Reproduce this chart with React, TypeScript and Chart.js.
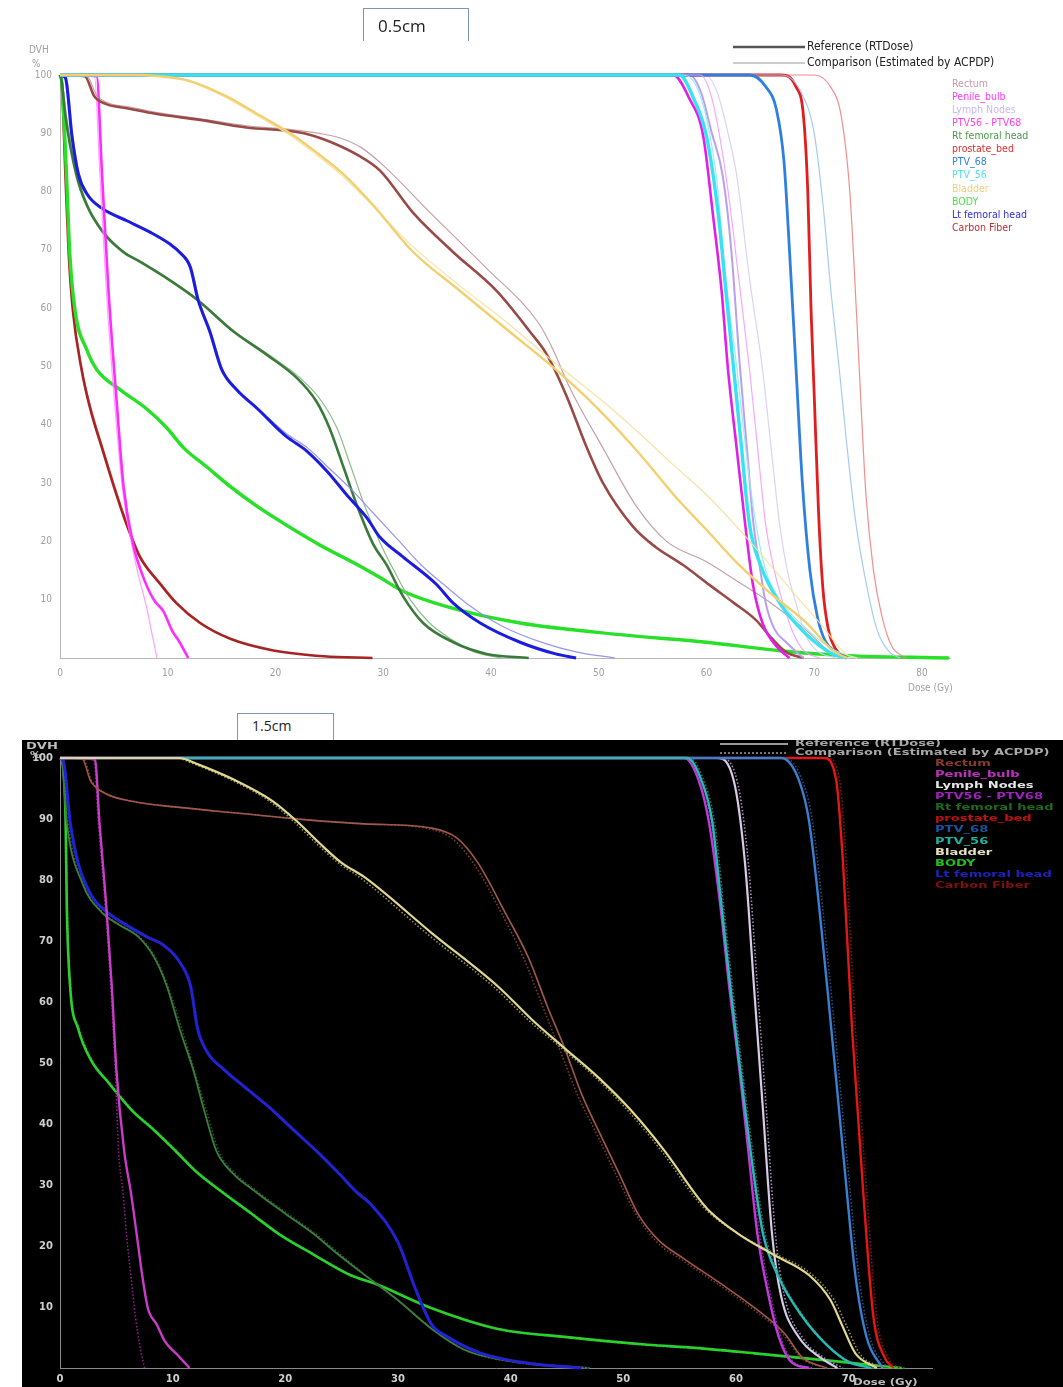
import React, { useEffect, useRef } from "react";
import { Chart, registerables } from "chart.js";
Chart.register(...registerables);

type Pt = [number, number];

// ---------- shared labels ----------
const panelLabels = ["0.5cm", "1.5cm"];
const legendHeader = ["Reference (RTDose)", "Comparison (Estimated by ACPDP)"];
const structureNames = [
  "Rectum", "Penile_bulb", "Lymph Nodes", "PTV56 - PTV68", "Rt femoral head", "prostate_bed",
  "PTV_68", "PTV_56", "Bladder", "BODY", "Lt femoral head", "Carbon Fiber",
];
const doseTicksTop = [0, 10, 20, 30, 40, 50, 60, 70, 80];
const doseTicksBot = [0, 10, 20, 30, 40, 50, 60, 70];
const volTicks = [0, 10, 20, 30, 40, 50, 60, 70, 80, 90, 100];
const axisTitles = ["DVH", "%", "Dose (Gy)"];

// ---------- top panel (0.5cm) : [dose Gy, volume %] ----------
const topRectumRef: Pt[] = [[0,100],[2.3,99.8],[3.2,96.3],[4.3,95],[6.2,94.3],[9,93.3],[13,92.3],[17.3,91],[21.7,90.3],[23.5,89.6],[25.4,88.3],[27.6,86.3],[29.7,83.6],[32.8,76.3],[36.5,69.6],[40.5,63],[43.6,56],[45.2,52],[47,45],[48.8,36.5],[50.4,30],[53.2,22.5],[55.3,19],[57.8,16],[60.3,12.5],[62.5,9.5],[64.6,6.5],[66,3.5],[67.4,1],[69,0]];
const topRectumComp: Pt[] = [[0,100],[2.5,99.8],[3.4,96.5],[4.5,95.2],[6.5,94.5],[9.2,93.5],[13,92.5],[17.3,91.3],[21.7,90.6],[24,90],[26,89.2],[28,87.5],[30,84.5],[34.4,76.3],[39.5,67],[44.4,57.5],[45.6,53.5],[47.4,46],[50.4,36],[53.5,26],[56.3,20],[60,16.5],[63,13],[66,9.4],[69.3,4.7],[71.7,0.7],[73,0]];
const topPenileRef: Pt[] = [[0,100],[3.4,99.8],[3.9,83],[4.5,63],[5.3,43],[5.9,29.4],[6.8,19.4],[7.7,14],[8.7,10],[9.6,8],[10.4,4.7],[11.1,2.7],[11.9,0]];
const topPenileComp: Pt[] = [[0,100],[3.2,99.8],[3.7,83],[4.3,63],[5.1,43],[5.8,29],[6.6,20],[7.3,14],[8,9],[8.5,4.5],[9,0]];
const topLymphRef: Pt[] = [[0,100],[58.4,100],[59.5,97],[60.5,90],[61.5,82.8],[62.3,70],[63.1,50],[63.8,35],[64.3,24],[65,15],[65.5,9.4],[66.3,5],[67.4,2.7],[69,0]];
const topLymphComp: Pt[] = [[0,100],[59.9,100],[61,97],[62,90],[62.8,82.8],[64,65],[65.2,49.5],[66,36],[66.8,22.7],[67.5,15],[68.3,9.4],[69.2,4],[70.2,1.3],[72,0]];
const topPtv5668Ref: Pt[] = [[0,100],[56.9,100],[58.4,96],[59.7,89.5],[60.6,76],[61.4,63],[62,49.4],[62.8,36],[63.6,22.8],[64.3,12.7],[65.2,6],[66.5,2],[67.7,0]];
const topPtv5668Comp: Pt[] = [[0,100],[59.4,100],[60.5,96],[61.8,82.8],[63,65],[64,49.4],[64.8,35],[65.5,22.8],[66.3,15],[67.1,9.4],[68,4.5],[69,1.3],[70.5,0]];
const topRtFemRef: Pt[] = [[0,100],[0.15,99],[0.5,93],[1.5,83],[2.5,77.6],[4,73],[5.9,69.6],[7.4,68],[9.6,65.5],[12.7,61.5],[16.1,56],[19.2,52],[22,48],[23.8,44],[25,39.5],[26.3,32.8],[27.6,26],[29.1,19.4],[30.3,16],[31.8,10.7],[33.7,6],[36.5,2.7],[39.6,0.7],[43.5,0]];
const topRtFemComp: Pt[] = [[0,100],[0.2,99],[0.6,93],[1.6,83],[2.6,77.6],[4.1,73],[6,69.6],[7.5,68],[9.7,65.5],[12.8,61.5],[16.2,56],[19.4,52],[22.3,48],[24.3,44],[25.7,39.5],[27,32.8],[28.3,26],[29.8,19.4],[31,15],[32.5,10],[34.3,6],[36.5,3],[38.5,1],[41,0]];
const topProstateRef: Pt[] = [[0,100],[67,100],[68.3,98],[69,93],[69.4,80],[69.7,60],[70,45],[70.4,25],[70.8,12],[71.3,5],[72,1.5],[73,0]];
const topProstateComp: Pt[] = [[0,100],[70,100],[71.5,98],[72.5,93],[73.3,80],[73.9,60],[74.3,45],[74.8,28],[75.5,15],[76.3,7],[77.2,2],[78.5,0]];
const topPtv68Ref: Pt[] = [[0,100],[64,100],[65.5,98],[66.5,94],[67.2,85],[67.7,70],[68.3,50],[68.9,30],[69.6,15],[70.3,7],[71,3],[72,1],[73,0]];
const topPtv68Comp: Pt[] = [[0,100],[67,100],[68.8,97],[70,90],[70.8,78],[71.6,62],[72.3,50],[73,37],[73.8,24],[74.8,13],[75.8,5],[77,1],[78,0]];
const topPtv56Ref: Pt[] = [[0,100],[57.5,100],[58.8,96],[60,89.5],[61.1,76],[61.8,63],[62.5,50],[63.2,37],[64,22.8],[65,16],[66.8,9.4],[69.3,4],[71.7,0.7],[73,0]];
const topPtv56Comp: Pt[] = [[0,100],[57.8,100],[59.5,96],[60.9,82.8],[61.8,65],[62.8,50],[63.7,35],[64.6,22.8],[65.5,15],[66.8,10],[69.3,5],[71.7,1.5],[74,0]];
const topBladderRef: Pt[] = [[0,100],[7.4,100],[9,99.8],[12,99],[15.5,96.3],[18.6,93],[21.7,89.6],[24.1,86.3],[26.3,83],[29.1,77.6],[32.8,69.6],[37.1,63],[41.7,56],[46,49.5],[49.8,43],[53.8,35],[57.2,27.5],[60,22],[63,16],[66.2,10.7],[69.3,6],[71.7,1.3],[73,0]];
const topBladderComp: Pt[] = [[0,100],[7,100],[8.8,99.8],[11.8,99],[15.2,96.3],[18.3,93],[21.4,89.6],[23.8,86.3],[26,83],[28.8,78],[32.5,71],[37,64],[41.5,57.5],[46,50.5],[50.4,44],[53.8,38.5],[57,33],[60,28],[64.6,18.8],[67.7,12],[70.8,5.4],[72.9,0.7],[74,0]];
const topBodyRef: Pt[] = [[0,100],[0.15,99],[0.6,83],[0.9,69.6],[1.4,59.5],[2.5,52.8],[3.4,49.5],[5.6,46],[8,42.8],[9.9,39.5],[11.5,36],[13.6,32.8],[15.8,29.4],[18.3,26],[21,22.8],[24.1,19.4],[27.6,16],[29.7,13.8],[31.8,11.5],[36.5,8.5],[42.7,6],[52,4],[60,2.7],[67,1.2],[72,0.5],[82.5,0]];
const topBodyComp: Pt[] = [[0,100],[0.2,99],[0.65,83],[0.95,69.6],[1.5,59.5],[2.6,52.8],[3.5,49.5],[5.7,46],[8.1,42.8],[10,39.5],[11.6,36],[13.7,32.8],[16,29.4],[18.5,26],[21.2,22.8],[24.3,19.4],[27.8,16],[30,13.6],[32,11.4],[36.7,8.4],[43,5.9],[52.3,3.9],[60.3,2.6],[67.3,1.1],[72.5,0.4],[82.5,0]];
const topLtFemRef: Pt[] = [[0,100],[0.5,99.5],[1.1,89.6],[1.7,83],[2.5,79.6],[4,77],[6.2,75],[8.4,73],[10.2,71],[11.1,69.6],[12.1,67],[12.8,61.5],[13.9,56],[15,49.5],[16.4,46],[18.3,42.8],[21,38],[22.9,35.5],[24.8,32],[26.6,28],[28.5,24],[29.7,20.7],[31.8,17.4],[34.9,12.7],[36.5,9.4],[39,6],[42.7,2.7],[46,0.7],[47.9,0]];
const topLtFemComp: Pt[] = [[0,100],[0.6,99.5],[1.2,89.6],[1.8,83],[2.6,79.6],[4.1,77],[6.3,75],[8.5,73],[10.3,71],[11.2,69.6],[12.2,67],[12.9,61.5],[14,56],[15.1,49.5],[16.5,46],[18.4,42.8],[21,38.5],[23,36],[25,32.5],[27,29],[29,25],[31.5,20],[33.5,16],[36,12],[38,9],[41,5.5],[45,2.5],[48,1],[51.5,0]];
const topCarbonRef: Pt[] = [[0,100],[0.15,99],[0.5,83],[0.8,69.6],[1.2,59.5],[2,49.5],[2.8,42.8],[3.9,36],[5,29.4],[6.2,22.8],[7.4,17.4],[9.3,12.7],[10.8,9.4],[13,6],[15.8,3.3],[19.8,1.3],[24.5,0.3],[29,0]];
const topCarbonComp: Pt[] = [[0,100],[0.2,99],[0.55,83],[0.85,69.6],[1.25,59.5],[2.05,49.5],[2.9,42.8],[4,36],[5.1,29.4],[6.3,22.8],[7.5,17.4],[9.4,12.7],[10.9,9.4],[13.1,6],[16,3.2],[20,1.2],[24.5,0.3],[28.5,0]];

// ---------- bottom panel (1.5cm) ----------
const botRectumRef: Pt[] = [[0,100],[2,99.8],[2.7,96.3],[3.9,94.3],[6.4,92.9],[10.6,91.9],[16.1,90.9],[21.7,89.9],[27,89.2],[33,88.5],[35.3,86.8],[37.1,82.8],[39.5,74.7],[41.6,67.2],[43.3,59.1],[44.8,52.4],[46.3,44.9],[47.8,38.9],[49.6,32],[51.3,25.3],[53.1,21],[55.4,17.9],[58.6,13.9],[61.7,9.8],[64.3,5.7],[65.9,1.7],[68.1,0]];
const botRectumComp: Pt[] = [[0,100],[2.1,99.8],[2.8,96.3],[4,94.3],[6.5,92.9],[10.7,91.9],[16.2,90.9],[21.8,89.9],[27.1,89.2],[33,88.3],[35,86.5],[36.8,82.5],[39.2,74.5],[41.2,67],[42.9,59],[44.4,52],[46,44.5],[47.6,38.5],[49.4,31.5],[51.2,25],[53,20.6],[55.3,17.6],[58.5,13.6],[61.6,9.5],[64.2,5.5],[65.8,1.6],[68,0]];
const botPenileRef: Pt[] = [[0,100],[3.1,99.8],[3.5,89.5],[4.1,76],[4.6,62.5],[5,49],[5.7,35.5],[6.3,28.7],[6.8,22],[7.3,15.2],[7.8,9.8],[8.6,7.1],[9.3,4.4],[10.5,2],[11.5,0]];
const botPenileComp: Pt[] = [[0,100],[3,99.8],[3.4,89.5],[4,76],[4.5,62.5],[4.9,49],[5.2,35.5],[5.6,28.7],[5.9,22],[6.3,15],[6.7,8.4],[7.1,3.5],[7.5,0]];
const botLymphRef: Pt[] = [[0,100],[58.3,100],[59.8,96.3],[60.8,82.8],[61.6,62.5],[62.4,42.2],[63.2,22],[64,11.8],[65.6,5],[67.5,1.7],[69,0]];
const botLymphComp: Pt[] = [[0,100],[58.6,100],[60.1,96.3],[61.1,82.8],[61.9,62.5],[62.7,42.2],[63.5,22],[64.3,11.8],[65.9,5],[67.8,1.7],[69.5,0]];
const botPtv5668Ref: Pt[] = [[0,100],[55.4,100],[56.7,96.3],[57.6,89.5],[58.6,76],[59.4,62.5],[60.3,49],[61.1,35.5],[61.9,22],[62.9,11.8],[63.8,5.1],[64.9,1],[66.5,0]];
const botPtv5668Comp: Pt[] = [[0,100],[55.6,100],[56.9,96.3],[57.8,89.5],[58.8,76],[59.6,62.5],[60.5,49],[61.3,35.5],[62.1,22],[63.1,11.8],[64,5],[65.1,1],[66.8,0]];
const botRtFemRef: Pt[] = [[0,100],[0.2,99],[0.6,89.5],[2,79.4],[3.7,74.7],[5.3,72.6],[7,70.6],[8.4,67.2],[9.5,62.5],[10.6,55.7],[11.8,49],[12.8,42.2],[13.9,35.5],[15.3,32],[17.5,28.7],[20,25.3],[22.5,22],[24.7,18.6],[26.8,15.6],[30,11.1],[33,6.4],[35.9,3],[40.4,1],[47,0]];
const botRtFemComp: Pt[] = [[0,100],[0.25,99],[0.7,89.5],[2.1,79.4],[3.8,74.7],[5.4,72.6],[7.1,70.6],[8.5,67.2],[9.6,62.5],[10.8,55.7],[11.9,49],[13,42.2],[14.1,35.5],[15.5,32],[17.7,28.7],[20.2,25.3],[22.7,22],[24.9,18.6],[27,15.4],[30.2,10.8],[33.2,6.2],[36,2.9],[40.5,0.9],[46,0]];
const botProstateRef: Pt[] = [[0,100],[67.8,100],[68.9,96.3],[69.5,82.8],[70.3,55.7],[71.3,28.7],[72.2,8.4],[73.2,1.7],[74,0]];
const botProstateComp: Pt[] = [[0,100],[68.1,100],[69.2,96.3],[69.8,82.8],[70.6,55.7],[71.6,28.7],[72.5,8.4],[73.5,1.7],[74.5,0]];
const botPtv68Ref: Pt[] = [[0,100],[64,100],[65.6,96.3],[66.5,89.5],[68.1,62.5],[69.5,35.5],[70.6,15.2],[71.6,5],[73,0]];
const botPtv68Comp: Pt[] = [[0,100],[64.3,100],[65.9,96.3],[66.8,89.5],[68.4,62.5],[69.8,35.5],[70.9,15.2],[71.9,5],[73.4,0]];
const botPtv56Ref: Pt[] = [[0,100],[55.7,100],[57,96],[57.9,89.5],[58.7,76],[59.5,62.5],[61.3,35.5],[62.4,22],[63.7,15.2],[65.9,8.4],[68.1,3.7],[70,1],[72,0]];
const botPtv56Comp: Pt[] = [[0,100],[55.9,100],[57.2,96],[58.1,89.5],[58.9,76],[59.7,62.5],[61.5,35.5],[62.6,22],[63.9,15],[66.1,8.2],[68.3,3.5],[70.2,0.9],[72.3,0]];
const botBladderRef: Pt[] = [[0,100],[10.6,100],[12.2,99],[15.6,96.3],[18.9,92.9],[21.1,89.5],[23,86.1],[25,82.8],[27,80.5],[33,71.3],[38.9,62.5],[41.9,57.1],[44.8,52.4],[47.8,47.6],[50.7,42.2],[53.7,35.5],[56.4,28.5],[57.5,26],[60.2,22],[63.3,18.6],[66.5,15.2],[68.4,11.1],[69.4,7.1],[70.6,2.4],[72.5,0]];
const botBladderComp: Pt[] = [[0,100],[10.3,100],[11.9,99],[15.3,96.3],[18.6,92.9],[20.8,89.5],[22.7,86.1],[24.7,82.8],[26.7,80.3],[32.7,71],[38.6,62.3],[41.6,57],[44.6,52.3],[47.6,47.5],[50.5,42],[53.5,35.3],[56.2,28.3],[57.4,25.8],[60.2,22],[63.4,18.8],[66.7,15.4],[68.7,11.2],[69.8,7],[71,2.3],[73,0]];
const botBodyRef: Pt[] = [[0,100],[0.2,99.5],[0.5,89.5],[0.6,76],[0.9,62.5],[1.6,55.7],[2.8,50.3],[4.2,47],[6.4,42.2],[8.4,38.9],[10.3,35.5],[12.2,32],[14.5,28.7],[17,25.3],[19.4,22],[22.5,18.6],[25.8,15.2],[28,13.8],[33,9.8],[38.9,6.4],[44.8,5.1],[52.2,3.8],[56.4,3.3],[61.7,2.4],[69.4,1],[72,0.5],[74.7,0]];
const botBodyComp: Pt[] = [[0,100],[0.25,99.5],[0.55,89.5],[0.65,76],[0.95,62.5],[1.7,55.7],[2.9,50.3],[4.3,47],[6.5,42.2],[8.5,38.9],[10.4,35.5],[12.3,32],[14.6,28.7],[17.1,25.3],[19.5,22],[22.6,18.6],[25.9,15.2],[28.1,13.7],[33.1,9.7],[39,6.3],[44.9,5],[52.3,3.7],[56.5,3.2],[61.8,2.3],[69.5,0.9],[72.1,0.4],[75,0]];
const botLtFemRef: Pt[] = [[0,100],[0.3,99.5],[0.9,89.5],[1.6,82.8],[2.8,77.4],[4.2,74.7],[5.9,72.6],[7.8,70.6],[9.2,69.3],[10.6,66.6],[11.6,62.5],[12.2,55.7],[13.1,51.7],[14.5,49],[16.7,45.6],[18.9,42.2],[20.8,38.9],[22.8,35.5],[24.7,32],[26.4,28.7],[27.5,27],[30,20.6],[31.5,13.2],[33,7.1],[34.4,5.1],[37.4,2.4],[41.9,0.7],[46.3,0]];
const botLtFemComp: Pt[] = [[0,100],[0.35,99.5],[0.95,89.5],[1.7,82.8],[2.9,77.4],[4.3,74.7],[6,72.6],[7.9,70.6],[9.3,69.3],[10.7,66.6],[11.7,62.5],[12.3,55.7],[13.2,51.7],[14.6,49],[16.8,45.6],[19,42.2],[20.9,38.9],[22.9,35.5],[24.8,32],[26.5,28.7],[27.6,27],[30.1,20.4],[31.6,13],[33.1,7],[34.5,5],[37.5,2.3],[42,0.6],[47,0]];

// ---------- curve lists (first = drawn on top) ----------
type Curve = { name: string; ref: Pt[]; comp: Pt[] };
const topCurves: Curve[] = [
  { name: "Bladder", ref: topBladderRef, comp: topBladderComp },
  { name: "PTV_56", ref: topPtv56Ref, comp: topPtv56Comp },
  { name: "PTV56 - PTV68", ref: topPtv5668Ref, comp: topPtv5668Comp },
  { name: "PTV_68", ref: topPtv68Ref, comp: topPtv68Comp },
  { name: "prostate_bed", ref: topProstateRef, comp: topProstateComp },
  { name: "Lymph Nodes", ref: topLymphRef, comp: topLymphComp },
  { name: "Rectum", ref: topRectumRef, comp: topRectumComp },
  { name: "Penile_bulb", ref: topPenileRef, comp: topPenileComp },
  { name: "Lt femoral head", ref: topLtFemRef, comp: topLtFemComp },
  { name: "Rt femoral head", ref: topRtFemRef, comp: topRtFemComp },
  { name: "BODY", ref: topBodyRef, comp: topBodyComp },
  { name: "Carbon Fiber", ref: topCarbonRef, comp: topCarbonComp },
];
const botCurves: Curve[] = [
  { name: "Bladder", ref: botBladderRef, comp: botBladderComp },
  { name: "PTV_56", ref: botPtv56Ref, comp: botPtv56Comp },
  { name: "PTV56 - PTV68", ref: botPtv5668Ref, comp: botPtv5668Comp },
  { name: "PTV_68", ref: botPtv68Ref, comp: botPtv68Comp },
  { name: "prostate_bed", ref: botProstateRef, comp: botProstateComp },
  { name: "Lymph Nodes", ref: botLymphRef, comp: botLymphComp },
  { name: "Rectum", ref: botRectumRef, comp: botRectumComp },
  { name: "Penile_bulb", ref: botPenileRef, comp: botPenileComp },
  { name: "Lt femoral head", ref: botLtFemRef, comp: botLtFemComp },
  { name: "Rt femoral head", ref: botRtFemRef, comp: botRtFemComp },
  { name: "BODY", ref: botBodyRef, comp: botBodyComp },
];

// ---------- styles ----------
type Sty = { ref: string; comp: string; w: number };
const topStyle: Record<string, Sty> = {
  Rectum: { ref: "#9a4a46", comp: "rgba(185,145,155,0.85)", w: 2.6 },
  Penile_bulb: { ref: "#ff2cff", comp: "rgba(255,150,255,0.9)", w: 2.6 },
  "Lymph Nodes": { ref: "#b8a0ee", comp: "rgba(215,205,245,0.9)", w: 2 },
  "PTV56 - PTV68": { ref: "#e020e8", comp: "rgba(245,160,245,0.9)", w: 2.6 },
  "Rt femoral head": { ref: "#3a7a3a", comp: "rgba(130,180,130,0.9)", w: 2.6 },
  prostate_bed: { ref: "#e01e1e", comp: "rgba(240,130,130,0.9)", w: 2.8 },
  PTV_68: { ref: "#2f7fe0", comp: "rgba(160,200,240,0.95)", w: 2.8 },
  PTV_56: { ref: "#38e2f2", comp: "rgba(150,235,240,0.95)", w: 3.4 },
  Bladder: { ref: "#f2d070", comp: "rgba(246,226,160,0.95)", w: 2.4 },
  BODY: { ref: "#28e028", comp: "rgba(140,240,140,0.9)", w: 3.4 },
  "Lt femoral head": { ref: "#1c1ce0", comp: "rgba(140,140,240,0.9)", w: 3 },
  "Carbon Fiber": { ref: "#a82424", comp: "rgba(210,110,110,0.85)", w: 2.6 },
};
const botStyle: Record<string, Sty> = {
  Rectum: { ref: "#a0584a", comp: "#7a3c32", w: 1.6 },
  Penile_bulb: { ref: "#c83cc8", comp: "#8a208a", w: 2.4 },
  "Lymph Nodes": { ref: "#d6cce6", comp: "#9a8fb0", w: 2.2 },
  "PTV56 - PTV68": { ref: "#c03ad8", comp: "#8a2aa0", w: 2.4 },
  "Rt femoral head": { ref: "#3d7d3d", comp: "#285a28", w: 1.8 },
  prostate_bed: { ref: "#e01818", comp: "#901010", w: 2.4 },
  PTV_68: { ref: "#3a80d0", comp: "#24508a", w: 2.4 },
  PTV_56: { ref: "#2ab8b4", comp: "#1a7a78", w: 2.4 },
  Bladder: { ref: "#e0d890", comp: "#9a9050", w: 2.2 },
  BODY: { ref: "#2cd02c", comp: "#1a8a1a", w: 2.6 },
  "Lt femoral head": { ref: "#2222d0", comp: "#161690", w: 3 },
};
const topLegendColors = ["#c898a8", "#ff3cff", "#c8b8f0", "#ff40f0", "#4a9a4a", "#e03030", "#3080e0", "#50e0f0", "#f0d080", "#50e050", "#3030e0", "#c03030"];
const botLegendColors = ["#8a3a2a", "#c030c0", "#e6e6e6", "#a020c0", "#1f6a1f", "#c01010", "#2050a0", "#20b0a0", "#e8e0c0", "#20c020", "#2020c0", "#801010"];

const NARROW = '"Liberation Sans Narrow", "DejaVu Sans Condensed", "Liberation Sans", sans-serif';
const WIDE = '"DejaVu Sans", "Liberation Sans", sans-serif';

function buildDatasets(curves: Curve[], styles: Record<string, Sty>, dark: boolean) {
  const ds: any[] = [];
  curves.forEach((c) => {
    const s = styles[c.name];
    ds.push({
      label: c.name + " ref",
      data: c.ref.map(([x, y]) => ({ x, y })),
      borderColor: s.ref, borderWidth: s.w, pointRadius: 0, fill: false,
      cubicInterpolationMode: "monotone", clip: false,
    });
    ds.push({
      label: c.name + " comp",
      data: c.comp.map(([x, y]) => ({ x, y })),
      borderColor: s.comp, borderWidth: dark ? 1.6 : 1.2, borderDash: dark ? [1.5, 2] : [],
      pointRadius: 0, fill: false, cubicInterpolationMode: "monotone", clip: false,
    });
  });
  return ds;
}

function hline(ctx: CanvasRenderingContext2D, x1: number, x2: number, y: number) {
  ctx.beginPath(); ctx.moveTo(x1, y); ctx.lineTo(x2, y); ctx.stroke();
}
function sText(ctx: CanvasRenderingContext2D, t: string, x: number, y: number, sx: number) {
  ctx.save(); ctx.translate(x, y); ctx.scale(sx, 1); ctx.fillText(t, 0, 0); ctx.restore();
}

function drawTop(ctx: CanvasRenderingContext2D) {
  ctx.textBaseline = "middle"; ctx.textAlign = "left";
  ctx.fillStyle = "#a0a0a0"; ctx.font = `10px ${NARROW}`;
  ctx.fillText(axisTitles[0], 29, 50);
  ctx.fillText(axisTitles[1], 32, 64);
  ctx.fillText(axisTitles[2], 908, 688);
  ctx.strokeStyle = "#555"; ctx.lineWidth = 2.5; hline(ctx, 733, 805, 47);
  ctx.strokeStyle = "#999"; ctx.lineWidth = 1; hline(ctx, 733, 805, 63);
  ctx.fillStyle = "#222"; ctx.font = `12px ${NARROW}`;
  ctx.fillText(legendHeader[0], 807, 47);
  ctx.fillText(legendHeader[1], 807, 63);
  ctx.font = `10.5px ${NARROW}`;
  structureNames.forEach((n, i) => { ctx.fillStyle = topLegendColors[i]; ctx.fillText(n, 952, 84 + i * 13.1); });
}

function drawBot(ctx: CanvasRenderingContext2D) {
  ctx.textBaseline = "middle"; ctx.textAlign = "left";
  ctx.fillStyle = "#bdbdbd"; ctx.font = `bold 9px ${WIDE}`;
  sText(ctx, axisTitles[0], 4, 7, 1.45);
  sText(ctx, axisTitles[1], 8, 16, 1.2);
  sText(ctx, axisTitles[2], 831, 643, 1.3);
  ctx.strokeStyle = "#9a9a9a"; ctx.lineWidth = 2; hline(ctx, 698, 766, 4);
  ctx.setLineDash([2, 2]); ctx.lineWidth = 1.5; hline(ctx, 698, 766, 13); ctx.setLineDash([]);
  ctx.fillStyle = "#a8a8a8";
  sText(ctx, legendHeader[0], 773, 4, 1.45);
  sText(ctx, legendHeader[1], 773, 13, 1.45);
  structureNames.forEach((n, i) => { ctx.fillStyle = botLegendColors[i]; sText(ctx, n, 913, 23.5 + i * 11.1, 1.45); });
}

type PanelCfg = {
  curves: Curve[]; styles: Record<string, Sty>; dark: boolean; xMax: number; xTicks: number[];
  padding: { left: number; top: number; right: number; bottom: number }; yW: number; xH: number;
  tickFont: any; tickColor: string; axisColor: string; xPad: number; yPad: number;
  draw: (ctx: CanvasRenderingContext2D) => void;
};

function makeConfig(p: PanelCfg): any {
  return {
    type: "line",
    data: { datasets: buildDatasets(p.curves, p.styles, p.dark) },
    options: {
      responsive: false, animation: false, devicePixelRatio: 1,
      layout: { padding: p.padding },
      plugins: { legend: { display: false }, tooltip: { enabled: false } },
      scales: {
        x: {
          type: "linear", min: 0, max: p.xMax,
          afterBuildTicks: (s: any) => { s.ticks = p.xTicks.map((v) => ({ value: v })); },
          afterFit: (s: any) => { s.height = p.xH; },
          grid: { display: false, drawTicks: false },
          border: { display: true, color: p.axisColor, dash: [2, 2], width: 1 },
          ticks: { color: p.tickColor, font: p.tickFont, padding: p.xPad, maxRotation: 0, autoSkip: false },
        },
        y: {
          type: "linear", min: 0, max: 100,
          afterBuildTicks: (s: any) => { s.ticks = volTicks.map((v) => ({ value: v })); },
          afterFit: (s: any) => { s.width = p.yW; },
          grid: { display: false, drawTicks: false },
          border: { display: true, color: p.axisColor, dash: [2, 2], width: 1 },
          ticks: { color: p.tickColor, font: p.tickFont, padding: p.yPad, callback: (v: any) => (v === 0 ? "" : String(v)) },
        },
      },
    },
    plugins: [{ id: "annot", afterDraw(chart: any) { const c = chart.ctx; c.save(); p.draw(c); c.restore(); } }],
  };
}

function Panel({ width, height, cfg }: { width: number; height: number; cfg: PanelCfg }) {
  const ref = useRef<HTMLCanvasElement>(null);
  useEffect(() => {
    const chart = new Chart(ref.current as HTMLCanvasElement, makeConfig(cfg));
    return () => chart.destroy();
  }, []);
  return <canvas ref={ref} width={width} height={height} style={{ display: "block", width, height }} />;
}

const topCfg: PanelCfg = {
  curves: topCurves, styles: topStyle, dark: false, xMax: 82.6, xTicks: doseTicksTop,
  padding: { left: 30, top: 75, right: 113, bottom: 12 }, yW: 30, xH: 30,
  tickFont: { family: NARROW, size: 10 }, tickColor: "#a0a0a0", axisColor: "#b8b8b8", xPad: 9, yPad: 8,
  draw: drawTop,
};
const botCfg: PanelCfg = {
  curves: botCurves, styles: botStyle, dark: true, xMax: 77.4, xTicks: doseTicksBot,
  padding: { left: 8, top: 18, right: 131, bottom: 0 }, yW: 30, xH: 19,
  tickFont: { family: WIDE, size: 10, weight: "bold" }, tickColor: "#cfcfcf", axisColor: "#8a8a8a", xPad: 5, yPad: 7,
  draw: drawBot,
};

export default function App() {
  const boxBorder = "1px solid #7f93bb";
  return (
    <div style={{ position: "absolute", left: 0, top: 0, width: 1063, height: 1387, background: "#fff", overflow: "hidden" }}>
      <div style={{ position: "absolute", left: 0, top: 0 }}>
        <Panel width={1063} height={700} cfg={topCfg} />
      </div>
      <div style={{ position: "absolute", left: 22, top: 740, background: "#000" }}>
        <Panel width={1041} height={647} cfg={botCfg} />
      </div>
      <div style={{ position: "absolute", left: 363, top: 8, width: 106, height: 33, boxSizing: "border-box", borderTop: boxBorder, borderLeft: boxBorder, borderRight: boxBorder, paddingLeft: 14, paddingTop: 7, fontFamily: '"Open Sans", sans-serif', fontSize: 17, lineHeight: "20px", color: "#222" }}>{panelLabels[0]}</div>
      <div style={{ position: "absolute", left: 237, top: 713, width: 97, height: 27, boxSizing: "border-box", borderTop: boxBorder, borderLeft: boxBorder, borderRight: boxBorder, paddingLeft: 14, paddingTop: 3, fontFamily: '"Open Sans", sans-serif', fontSize: 14, lineHeight: "18px", color: "#222" }}>{panelLabels[1]}</div>
    </div>
  );
}
